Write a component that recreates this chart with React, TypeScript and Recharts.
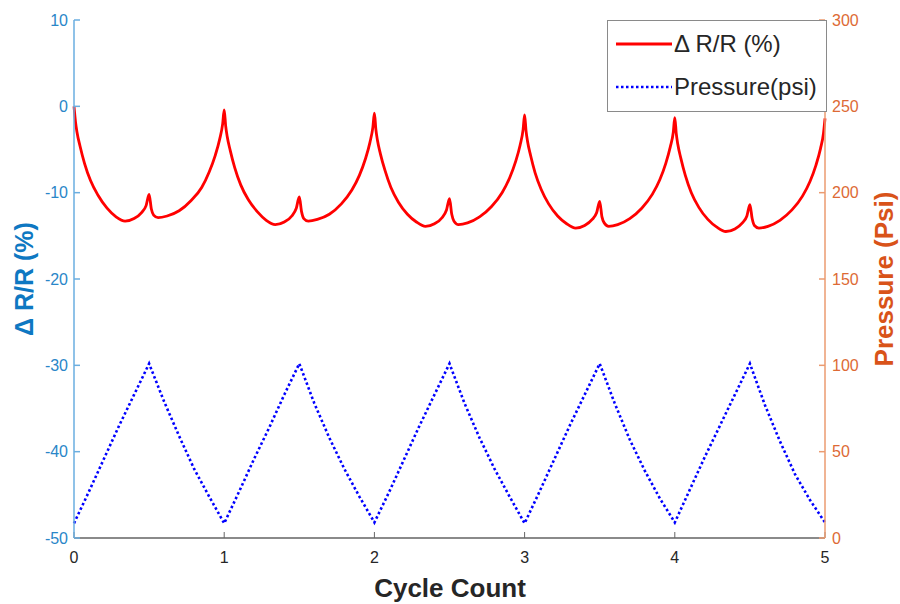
import { LineChart, Line, XAxis, YAxis, Legend } from "recharts";

// ΔR/R (%) samples
const resX = [
  0, 0.01, 0.02, 0.04, 0.07, 0.11, 0.16, 0.22, 0.28, 0.34, 0.4, 0.45, 0.48, 0.5, 0.515, 0.53, 0.56, 0.62, 0.7, 0.78, 0.85, 0.9, 0.94, 0.97, 0.99,
  1, 1.01, 1.02, 1.04, 1.07, 1.11, 1.16, 1.22, 1.28, 1.34, 1.4, 1.45, 1.48, 1.5, 1.515, 1.53, 1.56, 1.62, 1.7, 1.78, 1.85, 1.9, 1.94, 1.97, 1.99,
  2, 2.01, 2.02, 2.04, 2.07, 2.11, 2.16, 2.22, 2.28, 2.34, 2.4, 2.45, 2.48, 2.5, 2.515, 2.53, 2.56, 2.62, 2.7, 2.78, 2.85, 2.9, 2.94, 2.97, 2.99,
  3, 3.01, 3.02, 3.04, 3.07, 3.11, 3.16, 3.22, 3.28, 3.34, 3.4, 3.45, 3.48, 3.5, 3.515, 3.53, 3.56, 3.62, 3.7, 3.78, 3.85, 3.9, 3.94, 3.97, 3.99,
  4, 4.01, 4.02, 4.04, 4.07, 4.11, 4.16, 4.22, 4.28, 4.34, 4.4, 4.45, 4.48, 4.5, 4.515, 4.53, 4.56, 4.62, 4.7, 4.78, 4.85, 4.9, 4.94, 4.97, 4.99,
  5,
];
const resVal = [
  0, -1.8, -3.0, -4.6, -6.6, -8.6, -10.3, -11.8, -12.8, -13.3, -13.0, -12.3, -11.5, -10.2, -11.9, -12.6, -12.9, -12.7, -12.1, -10.9, -9.4, -7.6, -5.7, -3.8, -2.0,
  -0.4, -2.3, -3.5, -5.1, -7.1, -9.1, -10.8, -12.2, -13.2, -13.7, -13.4, -12.7, -11.8, -10.5, -12.2, -13.0, -13.3, -13.1, -12.5, -11.3, -9.7, -8.0, -6.1, -4.2, -2.4,
  -0.8, -2.7, -3.9, -5.5, -7.4, -9.4, -11.1, -12.5, -13.4, -13.9, -13.6, -12.9, -12.0, -10.7, -12.5, -13.3, -13.7, -13.5, -12.8, -11.6, -10.0, -8.3, -6.4, -4.5, -2.7,
  -1.0, -2.9, -4.1, -5.7, -7.7, -9.6, -11.3, -12.7, -13.6, -14.1, -13.8, -13.1, -12.3, -11.0, -12.8, -13.5, -13.9, -13.7, -13.0, -11.8, -10.2, -8.5, -6.6, -4.7, -3.0,
  -1.3, -3.2, -4.4, -6.0, -8.0, -10.0, -11.7, -13.1, -14.0, -14.5, -14.2, -13.5, -12.7, -11.4, -13.0, -13.8, -14.1, -13.9, -13.2, -12.0, -10.4, -8.7, -6.8, -4.9, -3.1,
  -1.4,
];

// pressure (psi) samples
const psiX = [
  0, 0.1, 0.2, 0.3, 0.4, 0.5, 0.6, 0.7, 0.8, 0.9,
  1, 1.1, 1.2, 1.3, 1.4, 1.5, 1.6, 1.7, 1.8, 1.9,
  2, 2.1, 2.2, 2.3, 2.4, 2.5, 2.6, 2.7, 2.8, 2.9,
  3, 3.1, 3.2, 3.3, 3.4, 3.5, 3.6, 3.7, 3.8, 3.9,
  4, 4.1, 4.2, 4.3, 4.4, 4.5, 4.6, 4.7, 4.8, 4.9,
  5,
];
const psiVal = [
  8.5, 27, 46, 65, 83, 101, 79, 59, 40, 24,
  8.5, 27, 46, 64, 83, 101, 78, 58, 40, 24,
  9, 27, 46, 65, 83, 101, 78, 58, 40, 24,
  8.5, 27, 46, 65, 83, 101, 78, 57, 39, 23,
  9, 28, 47, 65, 83, 101, 77, 56, 37, 22,
  9,
];

const xTicks = [0, 1, 2, 3, 4, 5];
const leftTicks = [-50, -40, -30, -20, -10, 0, 10];
const rightTicks = [0, 50, 100, 150, 200, 250, 300];
const legendOrder = ["Δ R/R (%)", "Pressure(psi)"];

const resData = resX.map((x, i) => ({ x, res: resVal[i] }));
const psiData = psiX.map((x, i) => ({ x, psi: psiVal[i] }));

const FONT = "'Liberation Sans', Arial, Helvetica, sans-serif";
const BLUE_TXT = "#2a86c8";
const BLUE_LINE = "#6aaee0";
const ORANGE_TXT = "#dd6a35";
const ORANGE_LINE = "#eb9b70";
const GRAY = "#8a8a8a";

function LegendBox({ payload }: any) {
  const items = [...(payload || [])].sort(
    (a: any, b: any) => legendOrder.indexOf(a.value) - legendOrder.indexOf(b.value)
  );
  return (
    <div
      style={{
        position: "relative",
        width: 220,
        height: 92,
        boxSizing: "border-box",
        border: `1.5px solid ${GRAY}`,
        background: "#fff",
        fontFamily: FONT,
        fontSize: 24,
        color: "#262626",
      }}
    >
      {items.map((it: any, i: number) => {
        const dashed = !!(it.payload && it.payload.strokeDasharray);
        const cy = i === 0 ? 23 : 66;
        return (
          <div key={i} style={{ position: "absolute", left: 0, top: cy - 16, height: 32, width: 220 }}>
            <svg width={60} height={32} style={{ position: "absolute", left: 6, top: 0 }}>
              <line
                x1={2}
                x2={58}
                y1={16}
                y2={16}
                stroke={it.color}
                strokeWidth={dashed ? 2.6 : 2.8}
                strokeDasharray={dashed ? "2.5 2.5" : undefined}
              />
            </svg>
            <span style={{ position: "absolute", left: 66, top: 2, lineHeight: "28px", whiteSpace: "nowrap" }}>
              {it.value}
            </span>
          </div>
        );
      })}
    </div>
  );
}

export default function App() {
  return (
    <div style={{ position: "absolute", left: 0, top: 0, width: 900, height: 604, background: "#fff" }}>
      <LineChart width={900} height={604} margin={{ top: 20, right: 0, bottom: 0, left: 0 }}>
        <XAxis
          dataKey="x"
          type="number"
          domain={[0, 5]}
          ticks={xTicks}
          height={66}
          tickSize={-6}
          tickMargin={20}
          axisLine={{ stroke: GRAY, strokeWidth: 2 }}
          tickLine={{ stroke: "#666", strokeWidth: 1 }}
          tick={{ fill: "#262626", fontSize: 16, fontFamily: FONT }}
          label={{
            content: () => (
              <text x={450} y={597} textAnchor="middle" fill="#262626" fontFamily={FONT} fontWeight="bold" fontSize={26}>
                Cycle Count
              </text>
            ),
          }}
        />
        <XAxis
          xAxisId="top"
          orientation="top"
          dataKey="x"
          type="number"
          domain={[0, 5]}
          ticks={xTicks}
          height={0}
          tickSize={-6}
          tick={false}
          axisLine={{ stroke: GRAY, strokeWidth: 2 }}
          tickLine={{ stroke: "#666", strokeWidth: 1 }}
        />
        <YAxis
          yAxisId="left"
          orientation="left"
          type="number"
          domain={[-50, 10]}
          ticks={leftTicks}
          width={74}
          tickSize={-6}
          tickMargin={12}
          axisLine={{ stroke: BLUE_LINE, strokeWidth: 1.5 }}
          tickLine={{ stroke: BLUE_LINE, strokeWidth: 1.5 }}
          tick={{ fill: BLUE_TXT, fontSize: 16, fontFamily: FONT }}
          label={{
            content: () => (
              <text
                x={0}
                y={0}
                transform="translate(33,279) rotate(-90)"
                textAnchor="middle"
                fill="#0e78c2"
                fontFamily={FONT}
                fontWeight="bold"
                fontSize={25}
              >
                Δ R/R (%)
              </text>
            ),
          }}
        />
        <YAxis
          yAxisId="right"
          orientation="right"
          type="number"
          domain={[0, 300]}
          ticks={rightTicks}
          width={75}
          tickSize={-6}
          tickMargin={13}
          axisLine={{ stroke: ORANGE_LINE, strokeWidth: 1.5 }}
          tickLine={{ stroke: ORANGE_LINE, strokeWidth: 1.5 }}
          tick={{ fill: ORANGE_TXT, fontSize: 16, fontFamily: FONT }}
          label={{
            content: () => (
              <text
                x={0}
                y={0}
                transform="translate(893,279) rotate(-90)"
                textAnchor="middle"
                fill="#d95319"
                fontFamily={FONT}
                fontWeight="bold"
                fontSize={26}
              >
                Pressure (Psi)
              </text>
            ),
          }}
        />
        <Legend
          layout="horizontal"
          align="center"
          verticalAlign="middle"
          content={<LegendBox />}
          wrapperStyle={{ top: 20, left: 607, width: 220, height: 92 }}
        />
        <Line
          data={resData}
          yAxisId="left"
          dataKey="res"
          name="Δ R/R (%)"
          type="monotone"
          stroke="#ff0000"
          strokeWidth={2.8}
          dot={false}
          activeDot={false}
          isAnimationActive={false}
        />
        <Line
          data={psiData}
          yAxisId="right"
          dataKey="psi"
          name="Pressure(psi)"
          type="linear"
          stroke="#0000ff"
          strokeWidth={2.6}
          strokeDasharray="2.5 2.5"
          dot={false}
          activeDot={false}
          isAnimationActive={false}
        />
      </LineChart>
    </div>
  );
}
